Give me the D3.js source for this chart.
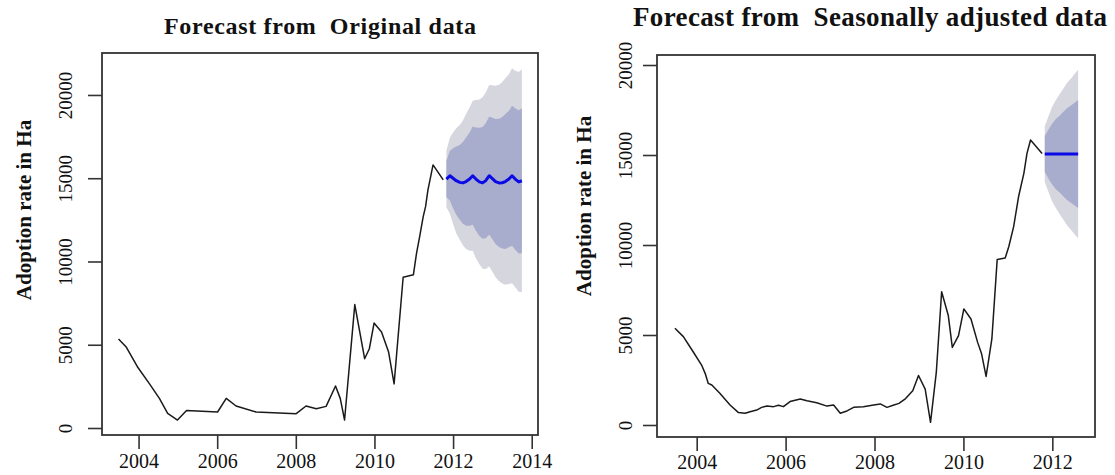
<!DOCTYPE html>
<html>
<head>
<meta charset="utf-8">
<script src="https://cdn.jsdelivr.net/npm/d3@7"></script>
<style>
  html, body { margin: 0; padding: 0; background: #fff; }
  svg { display: block; }
  text { font-family: "Liberation Serif", "Times New Roman", serif; fill: #111; }
</style>
</head>
<body>
<svg id="chart" width="1115" height="475"></svg>
<script>
// ---- Original series (year, hectares) ----
const origYears = [2003.49, 2003.68, 2003.97, 2004.27, 2004.53, 2004.74, 2004.99, 2005.22, 2006.01, 2006.23,
  2006.48, 2006.99, 2008.01, 2008.26, 2008.52, 2008.77, 2009.01, 2009.13, 2009.24, 2009.50,
  2009.75, 2009.87, 2009.99, 2010.18, 2010.36, 2010.50, 2010.73, 2010.99, 2011.07, 2011.15,
  2011.24, 2011.30, 2011.36, 2011.49, 2011.75];
const origValues = [5350, 4880, 3680, 2680, 1780, 880, 480, 1050, 960, 1780,
  1320, 960, 860, 1320, 1160, 1300, 2520, 1780, 480, 7410,
  4160, 4760, 6300, 5760, 4560, 2650, 9050, 9200, 10490, 11490,
  12690, 13290, 14290, 15800, 14900];

// ---- Forecast from the original series ----
const fcYears = [2011.83, 2011.92, 2012.00, 2012.08, 2012.17, 2012.25, 2012.33, 2012.42, 2012.50, 2012.58,
  2012.67, 2012.75, 2012.83, 2012.92, 2013.00, 2013.08, 2013.17, 2013.25, 2013.33, 2013.42,
  2013.50, 2013.58, 2013.67, 2013.75];
const fcMean = [14950, 15150, 15000, 14850, 14750, 14720, 14800, 14950, 15150, 14950,
  14780, 14720, 14850, 15150, 14980, 14800, 14720, 14730, 14800, 14950,
  15150, 14950, 14780, 14850];
const fcHalf80 = [1100, 1500, 1800, 2050, 2250, 2450, 2650, 2800, 2950, 3100,
  3250, 3350, 3450, 3550, 3650, 3750, 3850, 3950, 4050, 4100,
  4200, 4250, 4300, 4350];
const fcHalf95 = [1700, 2300, 2750, 3150, 3450, 3750, 4050, 4300, 4500, 4750,
  4950, 5150, 5300, 5450, 5600, 5750, 5900, 6050, 6200, 6300,
  6450, 6500, 6600, 6700];

// ---- Seasonally adjusted series ----
const saYears = [2003.51, 2003.70, 2003.92, 2004.11, 2004.19, 2004.26, 2004.34, 2004.52, 2004.75, 2004.94,
  2005.09, 2005.20, 2005.35, 2005.46, 2005.58, 2005.73, 2005.84, 2005.95, 2006.10, 2006.33,
  2006.48, 2006.70, 2006.93, 2007.08, 2007.23, 2007.38, 2007.53, 2007.75, 2007.98, 2008.13,
  2008.28, 2008.42, 2008.55, 2008.70, 2008.86, 2008.99, 2009.14, 2009.26, 2009.39, 2009.51,
  2009.66, 2009.75, 2009.89, 2010.01, 2010.17, 2010.32, 2010.41, 2010.51, 2010.64, 2010.76,
  2010.94, 2011.02, 2011.13, 2011.24, 2011.36, 2011.43, 2011.51, 2011.77];
const saValues = [5370, 4910, 4070, 3330, 2870, 2310, 2220, 1760, 1110, 690,
  650, 740, 830, 980, 1050, 1020, 1100, 1020, 1300, 1440,
  1350, 1240, 1050, 1110, 650, 780, 980, 1020, 1110, 1170,
  980, 1100, 1200, 1470, 1900, 2750, 1990, 150, 2920, 7400,
  6080, 4310, 4960, 6450, 5890, 4590, 3940, 2700, 4780, 9200,
  9280, 9900, 11020, 12680, 13980, 15090, 15830, 15090];

// ---- Forecast from the seasonally adjusted series ----
const saFcYears = [2011.83, 2011.92, 2012.00, 2012.08, 2012.17, 2012.25, 2012.33, 2012.42, 2012.50, 2012.58];
const saFcMean = [15050, 15050, 15050, 15050, 15050, 15050, 15050, 15050, 15050, 15050];
const saHalf80 = [1000, 1400, 1700, 1950, 2150, 2350, 2550, 2700, 2850, 3000];
const saHalf95 = [1550, 2150, 2650, 3000, 3350, 3650, 3950, 4200, 4450, 4680];

// ---- Axis ticks and labels ----
const yTicks = [0, 5000, 10000, 15000, 20000];
const xTicksLeft = [2004, 2006, 2008, 2010, 2012, 2014];
const xTicksRight = [2004, 2006, 2008, 2010, 2012];
const titleLeft = "Forecast from  Original data";
const titleRight = "Forecast from  Seasonally adjusted data";
const yTitle = "Adoption rate in Ha";

const svg = d3.select("#chart");
svg.append("rect").attr("width", 1115).attr("height", 475).attr("fill", "#fff");

const COL_95 = "#d6d6de";
const COL_80 = "#a9adcd";
const COL_FC = "#0a0ae6";
const COL_LINE = "#1a1a1a";

function panel(cfg) {
  const x = d3.scaleLinear().domain(cfg.xDomain).range([cfg.box.x0, cfg.box.x1]);
  const y = d3.scaleLinear().domain(cfg.yDomain).range([cfg.box.y1, cfg.box.y0]);
  const g = svg.append("g");

  const fc = cfg.fcYears.map((t, i) => ({
    t, m: cfg.fcMean[i], h80: cfg.half80[i], h95: cfg.half95[i]
  }));

  // prediction intervals: 95% underneath, 80% on top
  const area95 = d3.area().x(d => x(d.t)).y0(d => y(d.m - d.h95)).y1(d => y(d.m + d.h95));
  const area80 = d3.area().x(d => x(d.t)).y0(d => y(d.m - d.h80)).y1(d => y(d.m + d.h80));
  g.append("path").datum(fc).attr("d", area95).attr("fill", COL_95);
  g.append("path").datum(fc).attr("d", area80).attr("fill", COL_80);

  const hist = cfg.years.map((t, i) => ({ t, v: cfg.values[i] }));
  g.append("path").datum(hist)
    .attr("d", d3.line().x(d => x(d.t)).y(d => y(d.v)))
    .attr("fill", "none").attr("stroke", COL_LINE).attr("stroke-width", 1.5)
    .attr("stroke-linejoin", "round");

  g.append("path").datum(fc)
    .attr("d", d3.line().x(d => x(d.t)).y(d => y(d.m)))
    .attr("fill", "none").attr("stroke", COL_FC).attr("stroke-width", 3)
    .attr("stroke-linejoin", "round");

  // plot frame
  g.append("rect")
    .attr("x", cfg.box.x0).attr("y", cfg.box.y0)
    .attr("width", cfg.box.x1 - cfg.box.x0).attr("height", cfg.box.y1 - cfg.box.y0)
    .attr("fill", "none").attr("stroke", "#333").attr("stroke-width", 1.8);

  // bottom axis
  const ax = g.append("g").attr("transform", `translate(0,${cfg.box.y1})`)
    .call(d3.axisBottom(x).tickValues(cfg.xTicks).tickFormat(d3.format("d")).tickSize(14));
  ax.select(".domain").remove();
  ax.selectAll(".tick line").attr("stroke", "#333").attr("stroke-width", 1.6);
  ax.selectAll(".tick text")
    .attr("y", cfg.xLabelBase - cfg.box.y1).attr("dy", 0)
    .attr("font-size", 20).attr("fill", "#111")
    .style("font-family", '"Liberation Serif", serif');

  // left axis with vertical labels
  const ay = g.append("g").attr("transform", `translate(${cfg.box.x0},0)`)
    .call(d3.axisLeft(y).tickValues(yTicks).tickFormat(d3.format("d")).tickSize(14));
  ay.select(".domain").remove();
  ay.selectAll(".tick line").attr("stroke", "#333").attr("stroke-width", 1.6);
  ay.selectAll(".tick text")
    .attr("transform", "rotate(-90)")
    .attr("x", 0).attr("y", cfg.yLabelBase - cfg.box.x0).attr("dy", 0)
    .attr("text-anchor", "middle")
    .attr("font-size", 19).attr("fill", "#111")
    .style("font-family", '"Liberation Serif", serif');

  // axis title
  svg.append("text")
    .attr("transform", `translate(${cfg.yTitlePos[0]},${cfg.yTitlePos[1]}) rotate(-90)`)
    .attr("text-anchor", "middle")
    .attr("font-size", 21).attr("font-weight", "bold")
    .text(yTitle);

  // main title
  svg.append("text")
    .attr("x", cfg.titlePos[0]).attr("y", cfg.titlePos[1])
    .attr("text-anchor", "middle")
    .attr("font-size", cfg.titleSize).attr("font-weight", "bold")
    .attr("textLength", cfg.titleWidth).attr("lengthAdjust", "spacing")
    .style("white-space", "pre")
    .text(cfg.title);
}

panel({
  box: { x0: 102, x1: 538, y0: 53, y1: 435 },
  xDomain: [2003.07, 2014.16],
  yDomain: [-420, 22520],
  years: origYears, values: origValues,
  fcYears, fcMean, half80: fcHalf80, half95: fcHalf95,
  xTicks: xTicksLeft,
  xLabelBase: 468,
  yLabelBase: 72,
  yTitlePos: [31, 210],
  title: titleLeft, titlePos: [320, 34], titleSize: 24, titleWidth: 312
});

panel({
  box: { x0: 657, x1: 1095, y0: 55, y1: 437 },
  xDomain: [2003.107, 2012.96],
  yDomain: [-667, 20556],
  years: saYears, values: saValues,
  fcYears: saFcYears, fcMean: saFcMean, half80: saHalf80, half95: saHalf95,
  xTicks: xTicksRight,
  xLabelBase: 469,
  yLabelBase: 632,
  yTitlePos: [591, 206],
  title: titleRight, titlePos: [870, 26], titleSize: 27, titleWidth: 474
});
</script>
</body>
</html>
